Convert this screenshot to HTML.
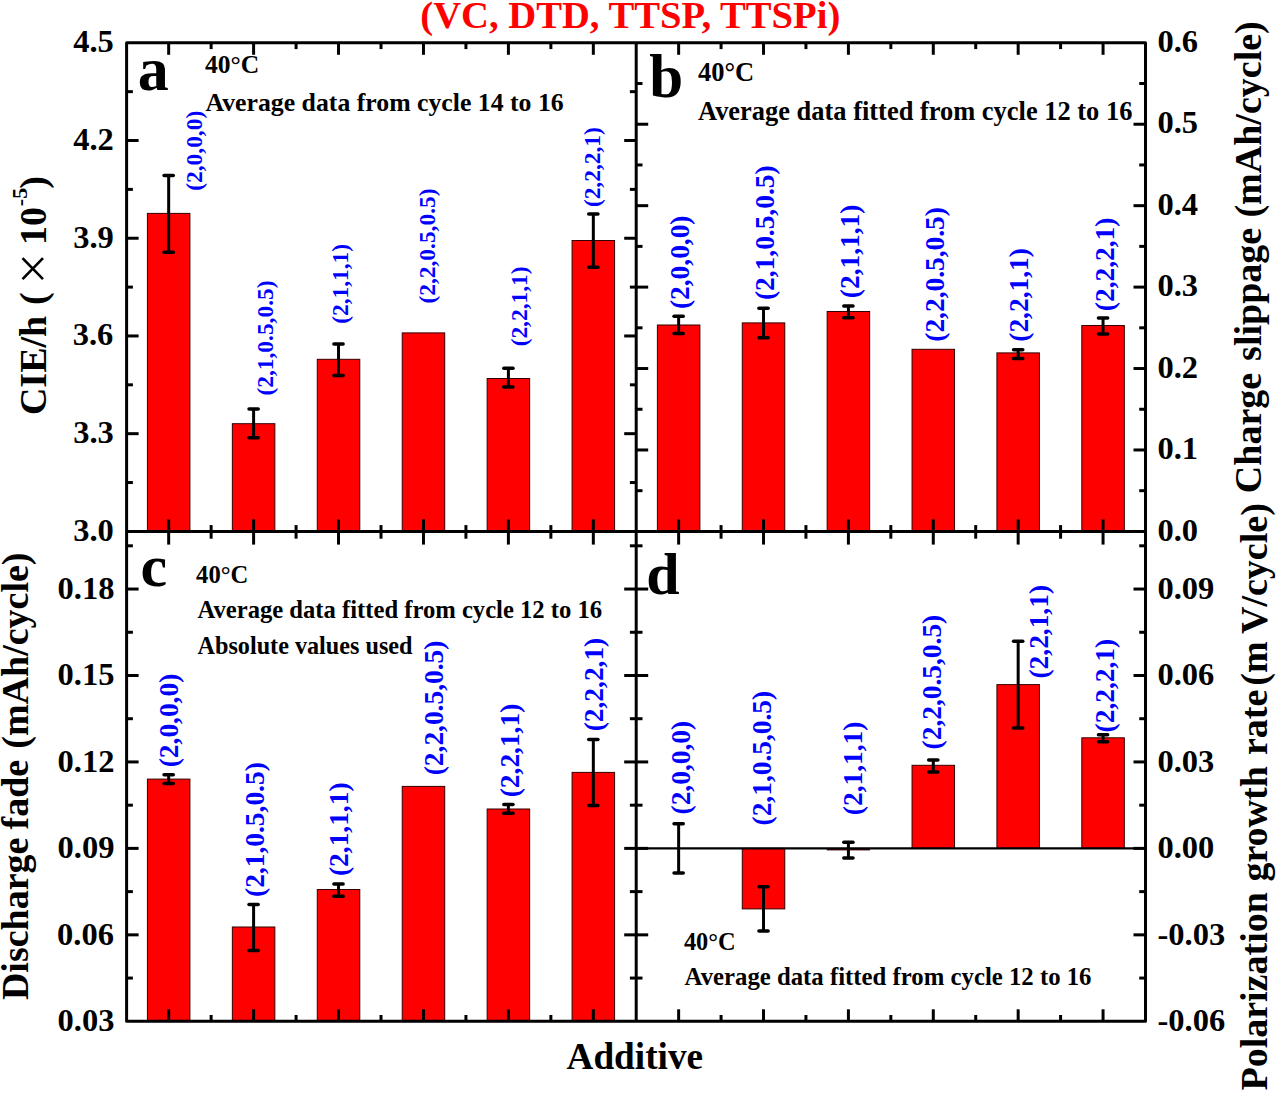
<!DOCTYPE html>
<html><head><meta charset="utf-8"><title>Additive chart</title>
<style>html,body{margin:0;padding:0;background:#fff;}body{width:1280px;height:1093px;overflow:hidden;font-family:"Liberation Serif",serif;}svg{display:block;}</style>
</head><body>
<svg width="1280" height="1093" viewBox="0 0 1280 1093">
<rect width="1280" height="1093" fill="#fff"/>
<g>
<rect x="147.42" y="213.40" width="42.50" height="318.00" fill="#FF0000" stroke="#300" stroke-width="1"/>
<rect x="657.39" y="325.00" width="42.50" height="206.40" fill="#FF0000" stroke="#300" stroke-width="1"/>
<rect x="147.42" y="779.10" width="42.50" height="242.20" fill="#FF0000" stroke="#300" stroke-width="1"/>
<rect x="232.35" y="423.70" width="42.50" height="107.70" fill="#FF0000" stroke="#300" stroke-width="1"/>
<rect x="742.28" y="322.90" width="42.50" height="208.50" fill="#FF0000" stroke="#300" stroke-width="1"/>
<rect x="232.35" y="927.00" width="42.50" height="94.30" fill="#FF0000" stroke="#300" stroke-width="1"/>
<rect x="742.28" y="848.39" width="42.50" height="60.51" fill="#FF0000" stroke="#300" stroke-width="1"/>
<rect x="317.28" y="359.30" width="42.50" height="172.10" fill="#FF0000" stroke="#300" stroke-width="1"/>
<rect x="827.16" y="311.50" width="42.50" height="219.90" fill="#FF0000" stroke="#300" stroke-width="1"/>
<rect x="317.28" y="889.50" width="42.50" height="131.80" fill="#FF0000" stroke="#300" stroke-width="1"/>
<rect x="827.16" y="848.39" width="42.50" height="1.6" fill="#600" stroke="#300" stroke-width="0.8"/>
<rect x="402.22" y="332.90" width="42.50" height="198.50" fill="#FF0000" stroke="#300" stroke-width="1"/>
<rect x="912.04" y="349.30" width="42.50" height="182.10" fill="#FF0000" stroke="#300" stroke-width="1"/>
<rect x="402.22" y="786.40" width="42.50" height="234.90" fill="#FF0000" stroke="#300" stroke-width="1"/>
<rect x="912.04" y="765.30" width="42.50" height="83.09" fill="#FF0000" stroke="#300" stroke-width="1"/>
<rect x="487.15" y="378.50" width="42.50" height="152.90" fill="#FF0000" stroke="#300" stroke-width="1"/>
<rect x="996.92" y="352.90" width="42.50" height="178.50" fill="#FF0000" stroke="#300" stroke-width="1"/>
<rect x="487.15" y="809.00" width="42.50" height="212.30" fill="#FF0000" stroke="#300" stroke-width="1"/>
<rect x="996.92" y="684.60" width="42.50" height="163.79" fill="#FF0000" stroke="#300" stroke-width="1"/>
<rect x="572.08" y="240.50" width="42.50" height="290.90" fill="#FF0000" stroke="#300" stroke-width="1"/>
<rect x="1081.81" y="325.50" width="42.50" height="205.90" fill="#FF0000" stroke="#300" stroke-width="1"/>
<rect x="572.08" y="772.40" width="42.50" height="248.90" fill="#FF0000" stroke="#300" stroke-width="1"/>
<rect x="1081.81" y="737.80" width="42.50" height="110.59" fill="#FF0000" stroke="#300" stroke-width="1"/>
</g>
<line x1="636.20" y1="848.39" x2="1145.50" y2="848.39" stroke="#000" stroke-width="2.4"/>
<g>
<line x1="168.67" y1="175.60" x2="168.67" y2="252.20" stroke="#000" stroke-width="3"/>
<line x1="164.07" y1="175.60" x2="173.27" y2="175.60" stroke="#000" stroke-width="3.5" stroke-linecap="round"/>
<line x1="164.07" y1="252.20" x2="173.27" y2="252.20" stroke="#000" stroke-width="3.5" stroke-linecap="round"/>
<line x1="678.64" y1="316.20" x2="678.64" y2="333.60" stroke="#000" stroke-width="3"/>
<line x1="674.04" y1="316.20" x2="683.24" y2="316.20" stroke="#000" stroke-width="3.5" stroke-linecap="round"/>
<line x1="674.04" y1="333.60" x2="683.24" y2="333.60" stroke="#000" stroke-width="3.5" stroke-linecap="round"/>
<line x1="168.67" y1="774.70" x2="168.67" y2="783.50" stroke="#000" stroke-width="3"/>
<line x1="164.07" y1="774.70" x2="173.27" y2="774.70" stroke="#000" stroke-width="3.5" stroke-linecap="round"/>
<line x1="164.07" y1="783.50" x2="173.27" y2="783.50" stroke="#000" stroke-width="3.5" stroke-linecap="round"/>
<line x1="678.64" y1="823.80" x2="678.64" y2="873.00" stroke="#000" stroke-width="3"/>
<line x1="674.04" y1="823.80" x2="683.24" y2="823.80" stroke="#000" stroke-width="3.5" stroke-linecap="round"/>
<line x1="674.04" y1="873.00" x2="683.24" y2="873.00" stroke="#000" stroke-width="3.5" stroke-linecap="round"/>
<line x1="253.60" y1="408.90" x2="253.60" y2="437.80" stroke="#000" stroke-width="3"/>
<line x1="249.00" y1="408.90" x2="258.20" y2="408.90" stroke="#000" stroke-width="3.5" stroke-linecap="round"/>
<line x1="249.00" y1="437.80" x2="258.20" y2="437.80" stroke="#000" stroke-width="3.5" stroke-linecap="round"/>
<line x1="763.53" y1="308.20" x2="763.53" y2="337.80" stroke="#000" stroke-width="3"/>
<line x1="758.93" y1="308.20" x2="768.13" y2="308.20" stroke="#000" stroke-width="3.5" stroke-linecap="round"/>
<line x1="758.93" y1="337.80" x2="768.13" y2="337.80" stroke="#000" stroke-width="3.5" stroke-linecap="round"/>
<line x1="253.60" y1="904.50" x2="253.60" y2="950.40" stroke="#000" stroke-width="3"/>
<line x1="249.00" y1="904.50" x2="258.20" y2="904.50" stroke="#000" stroke-width="3.5" stroke-linecap="round"/>
<line x1="249.00" y1="950.40" x2="258.20" y2="950.40" stroke="#000" stroke-width="3.5" stroke-linecap="round"/>
<line x1="763.53" y1="886.70" x2="763.53" y2="931.10" stroke="#000" stroke-width="3"/>
<line x1="758.93" y1="886.70" x2="768.13" y2="886.70" stroke="#000" stroke-width="3.5" stroke-linecap="round"/>
<line x1="758.93" y1="931.10" x2="768.13" y2="931.10" stroke="#000" stroke-width="3.5" stroke-linecap="round"/>
<line x1="338.53" y1="343.90" x2="338.53" y2="375.50" stroke="#000" stroke-width="3"/>
<line x1="333.93" y1="343.90" x2="343.13" y2="343.90" stroke="#000" stroke-width="3.5" stroke-linecap="round"/>
<line x1="333.93" y1="375.50" x2="343.13" y2="375.50" stroke="#000" stroke-width="3.5" stroke-linecap="round"/>
<line x1="848.41" y1="306.10" x2="848.41" y2="317.80" stroke="#000" stroke-width="3"/>
<line x1="843.81" y1="306.10" x2="853.01" y2="306.10" stroke="#000" stroke-width="3.5" stroke-linecap="round"/>
<line x1="843.81" y1="317.80" x2="853.01" y2="317.80" stroke="#000" stroke-width="3.5" stroke-linecap="round"/>
<line x1="338.53" y1="884.00" x2="338.53" y2="896.20" stroke="#000" stroke-width="3"/>
<line x1="333.93" y1="884.00" x2="343.13" y2="884.00" stroke="#000" stroke-width="3.5" stroke-linecap="round"/>
<line x1="333.93" y1="896.20" x2="343.13" y2="896.20" stroke="#000" stroke-width="3.5" stroke-linecap="round"/>
<line x1="848.41" y1="842.30" x2="848.41" y2="857.90" stroke="#000" stroke-width="3"/>
<line x1="843.81" y1="842.30" x2="853.01" y2="842.30" stroke="#000" stroke-width="3.5" stroke-linecap="round"/>
<line x1="843.81" y1="857.90" x2="853.01" y2="857.90" stroke="#000" stroke-width="3.5" stroke-linecap="round"/>
<line x1="933.29" y1="759.90" x2="933.29" y2="772.00" stroke="#000" stroke-width="3"/>
<line x1="928.69" y1="759.90" x2="937.89" y2="759.90" stroke="#000" stroke-width="3.5" stroke-linecap="round"/>
<line x1="928.69" y1="772.00" x2="937.89" y2="772.00" stroke="#000" stroke-width="3.5" stroke-linecap="round"/>
<line x1="508.40" y1="368.20" x2="508.40" y2="387.10" stroke="#000" stroke-width="3"/>
<line x1="503.80" y1="368.20" x2="513.00" y2="368.20" stroke="#000" stroke-width="3.5" stroke-linecap="round"/>
<line x1="503.80" y1="387.10" x2="513.00" y2="387.10" stroke="#000" stroke-width="3.5" stroke-linecap="round"/>
<line x1="1018.17" y1="349.80" x2="1018.17" y2="358.40" stroke="#000" stroke-width="3"/>
<line x1="1013.57" y1="349.80" x2="1022.77" y2="349.80" stroke="#000" stroke-width="3.5" stroke-linecap="round"/>
<line x1="1013.57" y1="358.40" x2="1022.77" y2="358.40" stroke="#000" stroke-width="3.5" stroke-linecap="round"/>
<line x1="508.40" y1="804.60" x2="508.40" y2="813.30" stroke="#000" stroke-width="3"/>
<line x1="503.80" y1="804.60" x2="513.00" y2="804.60" stroke="#000" stroke-width="3.5" stroke-linecap="round"/>
<line x1="503.80" y1="813.30" x2="513.00" y2="813.30" stroke="#000" stroke-width="3.5" stroke-linecap="round"/>
<line x1="1018.17" y1="641.30" x2="1018.17" y2="728.10" stroke="#000" stroke-width="3"/>
<line x1="1013.57" y1="641.30" x2="1022.77" y2="641.30" stroke="#000" stroke-width="3.5" stroke-linecap="round"/>
<line x1="1013.57" y1="728.10" x2="1022.77" y2="728.10" stroke="#000" stroke-width="3.5" stroke-linecap="round"/>
<line x1="593.33" y1="214.00" x2="593.33" y2="267.20" stroke="#000" stroke-width="3"/>
<line x1="588.73" y1="214.00" x2="597.93" y2="214.00" stroke="#000" stroke-width="3.5" stroke-linecap="round"/>
<line x1="588.73" y1="267.20" x2="597.93" y2="267.20" stroke="#000" stroke-width="3.5" stroke-linecap="round"/>
<line x1="1103.06" y1="318.10" x2="1103.06" y2="334.10" stroke="#000" stroke-width="3"/>
<line x1="1098.46" y1="318.10" x2="1107.66" y2="318.10" stroke="#000" stroke-width="3.5" stroke-linecap="round"/>
<line x1="1098.46" y1="334.10" x2="1107.66" y2="334.10" stroke="#000" stroke-width="3.5" stroke-linecap="round"/>
<line x1="593.33" y1="739.60" x2="593.33" y2="805.40" stroke="#000" stroke-width="3"/>
<line x1="588.73" y1="739.60" x2="597.93" y2="739.60" stroke="#000" stroke-width="3.5" stroke-linecap="round"/>
<line x1="588.73" y1="805.40" x2="597.93" y2="805.40" stroke="#000" stroke-width="3.5" stroke-linecap="round"/>
<line x1="1103.06" y1="734.70" x2="1103.06" y2="741.80" stroke="#000" stroke-width="3"/>
<line x1="1098.46" y1="734.70" x2="1107.66" y2="734.70" stroke="#000" stroke-width="3.5" stroke-linecap="round"/>
<line x1="1098.46" y1="741.80" x2="1107.66" y2="741.80" stroke="#000" stroke-width="3.5" stroke-linecap="round"/>
</g>
<g>
<line x1="168.67" y1="42.80" x2="168.67" y2="54.80" stroke="#000" stroke-width="3.0" stroke-linecap="butt"/>
<line x1="168.67" y1="519.40" x2="168.67" y2="544.60" stroke="#000" stroke-width="3.0" stroke-linecap="butt"/>
<line x1="168.67" y1="1009.30" x2="168.67" y2="1021.30" stroke="#000" stroke-width="3.0" stroke-linecap="butt"/>
<line x1="253.60" y1="42.80" x2="253.60" y2="54.80" stroke="#000" stroke-width="3.0" stroke-linecap="butt"/>
<line x1="253.60" y1="519.40" x2="253.60" y2="544.60" stroke="#000" stroke-width="3.0" stroke-linecap="butt"/>
<line x1="253.60" y1="1009.30" x2="253.60" y2="1021.30" stroke="#000" stroke-width="3.0" stroke-linecap="butt"/>
<line x1="338.53" y1="42.80" x2="338.53" y2="54.80" stroke="#000" stroke-width="3.0" stroke-linecap="butt"/>
<line x1="338.53" y1="519.40" x2="338.53" y2="544.60" stroke="#000" stroke-width="3.0" stroke-linecap="butt"/>
<line x1="338.53" y1="1009.30" x2="338.53" y2="1021.30" stroke="#000" stroke-width="3.0" stroke-linecap="butt"/>
<line x1="423.47" y1="42.80" x2="423.47" y2="54.80" stroke="#000" stroke-width="3.0" stroke-linecap="butt"/>
<line x1="423.47" y1="519.40" x2="423.47" y2="544.60" stroke="#000" stroke-width="3.0" stroke-linecap="butt"/>
<line x1="423.47" y1="1009.30" x2="423.47" y2="1021.30" stroke="#000" stroke-width="3.0" stroke-linecap="butt"/>
<line x1="508.40" y1="42.80" x2="508.40" y2="54.80" stroke="#000" stroke-width="3.0" stroke-linecap="butt"/>
<line x1="508.40" y1="519.40" x2="508.40" y2="544.60" stroke="#000" stroke-width="3.0" stroke-linecap="butt"/>
<line x1="508.40" y1="1009.30" x2="508.40" y2="1021.30" stroke="#000" stroke-width="3.0" stroke-linecap="butt"/>
<line x1="593.33" y1="42.80" x2="593.33" y2="54.80" stroke="#000" stroke-width="3.0" stroke-linecap="butt"/>
<line x1="593.33" y1="519.40" x2="593.33" y2="544.60" stroke="#000" stroke-width="3.0" stroke-linecap="butt"/>
<line x1="593.33" y1="1009.30" x2="593.33" y2="1021.30" stroke="#000" stroke-width="3.0" stroke-linecap="butt"/>
<line x1="211.13" y1="42.80" x2="211.13" y2="49.10" stroke="#000" stroke-width="3.0" stroke-linecap="butt"/>
<line x1="211.13" y1="525.10" x2="211.13" y2="538.70" stroke="#000" stroke-width="3.0" stroke-linecap="butt"/>
<line x1="211.13" y1="1015.00" x2="211.13" y2="1021.30" stroke="#000" stroke-width="3.0" stroke-linecap="butt"/>
<line x1="296.07" y1="42.80" x2="296.07" y2="49.10" stroke="#000" stroke-width="3.0" stroke-linecap="butt"/>
<line x1="296.07" y1="525.10" x2="296.07" y2="538.70" stroke="#000" stroke-width="3.0" stroke-linecap="butt"/>
<line x1="296.07" y1="1015.00" x2="296.07" y2="1021.30" stroke="#000" stroke-width="3.0" stroke-linecap="butt"/>
<line x1="381.00" y1="42.80" x2="381.00" y2="49.10" stroke="#000" stroke-width="3.0" stroke-linecap="butt"/>
<line x1="381.00" y1="525.10" x2="381.00" y2="538.70" stroke="#000" stroke-width="3.0" stroke-linecap="butt"/>
<line x1="381.00" y1="1015.00" x2="381.00" y2="1021.30" stroke="#000" stroke-width="3.0" stroke-linecap="butt"/>
<line x1="465.93" y1="42.80" x2="465.93" y2="49.10" stroke="#000" stroke-width="3.0" stroke-linecap="butt"/>
<line x1="465.93" y1="525.10" x2="465.93" y2="538.70" stroke="#000" stroke-width="3.0" stroke-linecap="butt"/>
<line x1="465.93" y1="1015.00" x2="465.93" y2="1021.30" stroke="#000" stroke-width="3.0" stroke-linecap="butt"/>
<line x1="550.87" y1="42.80" x2="550.87" y2="49.10" stroke="#000" stroke-width="3.0" stroke-linecap="butt"/>
<line x1="550.87" y1="525.10" x2="550.87" y2="538.70" stroke="#000" stroke-width="3.0" stroke-linecap="butt"/>
<line x1="550.87" y1="1015.00" x2="550.87" y2="1021.30" stroke="#000" stroke-width="3.0" stroke-linecap="butt"/>
<line x1="678.64" y1="42.80" x2="678.64" y2="54.80" stroke="#000" stroke-width="3.0" stroke-linecap="butt"/>
<line x1="678.64" y1="519.40" x2="678.64" y2="544.60" stroke="#000" stroke-width="3.0" stroke-linecap="butt"/>
<line x1="678.64" y1="1009.30" x2="678.64" y2="1021.30" stroke="#000" stroke-width="3.0" stroke-linecap="butt"/>
<line x1="763.53" y1="42.80" x2="763.53" y2="54.80" stroke="#000" stroke-width="3.0" stroke-linecap="butt"/>
<line x1="763.53" y1="519.40" x2="763.53" y2="544.60" stroke="#000" stroke-width="3.0" stroke-linecap="butt"/>
<line x1="763.53" y1="1009.30" x2="763.53" y2="1021.30" stroke="#000" stroke-width="3.0" stroke-linecap="butt"/>
<line x1="848.41" y1="42.80" x2="848.41" y2="54.80" stroke="#000" stroke-width="3.0" stroke-linecap="butt"/>
<line x1="848.41" y1="519.40" x2="848.41" y2="544.60" stroke="#000" stroke-width="3.0" stroke-linecap="butt"/>
<line x1="848.41" y1="1009.30" x2="848.41" y2="1021.30" stroke="#000" stroke-width="3.0" stroke-linecap="butt"/>
<line x1="933.29" y1="42.80" x2="933.29" y2="54.80" stroke="#000" stroke-width="3.0" stroke-linecap="butt"/>
<line x1="933.29" y1="519.40" x2="933.29" y2="544.60" stroke="#000" stroke-width="3.0" stroke-linecap="butt"/>
<line x1="933.29" y1="1009.30" x2="933.29" y2="1021.30" stroke="#000" stroke-width="3.0" stroke-linecap="butt"/>
<line x1="1018.17" y1="42.80" x2="1018.17" y2="54.80" stroke="#000" stroke-width="3.0" stroke-linecap="butt"/>
<line x1="1018.17" y1="519.40" x2="1018.17" y2="544.60" stroke="#000" stroke-width="3.0" stroke-linecap="butt"/>
<line x1="1018.17" y1="1009.30" x2="1018.17" y2="1021.30" stroke="#000" stroke-width="3.0" stroke-linecap="butt"/>
<line x1="1103.06" y1="42.80" x2="1103.06" y2="54.80" stroke="#000" stroke-width="3.0" stroke-linecap="butt"/>
<line x1="1103.06" y1="519.40" x2="1103.06" y2="544.60" stroke="#000" stroke-width="3.0" stroke-linecap="butt"/>
<line x1="1103.06" y1="1009.30" x2="1103.06" y2="1021.30" stroke="#000" stroke-width="3.0" stroke-linecap="butt"/>
<line x1="721.06" y1="42.80" x2="721.06" y2="49.10" stroke="#000" stroke-width="3.0" stroke-linecap="butt"/>
<line x1="721.06" y1="525.10" x2="721.06" y2="538.70" stroke="#000" stroke-width="3.0" stroke-linecap="butt"/>
<line x1="721.06" y1="1015.00" x2="721.06" y2="1021.30" stroke="#000" stroke-width="3.0" stroke-linecap="butt"/>
<line x1="805.94" y1="42.80" x2="805.94" y2="49.10" stroke="#000" stroke-width="3.0" stroke-linecap="butt"/>
<line x1="805.94" y1="525.10" x2="805.94" y2="538.70" stroke="#000" stroke-width="3.0" stroke-linecap="butt"/>
<line x1="805.94" y1="1015.00" x2="805.94" y2="1021.30" stroke="#000" stroke-width="3.0" stroke-linecap="butt"/>
<line x1="890.83" y1="42.80" x2="890.83" y2="49.10" stroke="#000" stroke-width="3.0" stroke-linecap="butt"/>
<line x1="890.83" y1="525.10" x2="890.83" y2="538.70" stroke="#000" stroke-width="3.0" stroke-linecap="butt"/>
<line x1="890.83" y1="1015.00" x2="890.83" y2="1021.30" stroke="#000" stroke-width="3.0" stroke-linecap="butt"/>
<line x1="975.71" y1="42.80" x2="975.71" y2="49.10" stroke="#000" stroke-width="3.0" stroke-linecap="butt"/>
<line x1="975.71" y1="525.10" x2="975.71" y2="538.70" stroke="#000" stroke-width="3.0" stroke-linecap="butt"/>
<line x1="975.71" y1="1015.00" x2="975.71" y2="1021.30" stroke="#000" stroke-width="3.0" stroke-linecap="butt"/>
<line x1="1060.59" y1="42.80" x2="1060.59" y2="49.10" stroke="#000" stroke-width="3.0" stroke-linecap="butt"/>
<line x1="1060.59" y1="525.10" x2="1060.59" y2="538.70" stroke="#000" stroke-width="3.0" stroke-linecap="butt"/>
<line x1="1060.59" y1="1015.00" x2="1060.59" y2="1021.30" stroke="#000" stroke-width="3.0" stroke-linecap="butt"/>
<line x1="126.60" y1="433.68" x2="138.60" y2="433.68" stroke="#000" stroke-width="3.0" stroke-linecap="butt"/>
<line x1="636.20" y1="433.68" x2="624.20" y2="433.68" stroke="#000" stroke-width="3.0" stroke-linecap="butt"/>
<line x1="126.60" y1="335.96" x2="138.60" y2="335.96" stroke="#000" stroke-width="3.0" stroke-linecap="butt"/>
<line x1="636.20" y1="335.96" x2="624.20" y2="335.96" stroke="#000" stroke-width="3.0" stroke-linecap="butt"/>
<line x1="126.60" y1="238.24" x2="138.60" y2="238.24" stroke="#000" stroke-width="3.0" stroke-linecap="butt"/>
<line x1="636.20" y1="238.24" x2="624.20" y2="238.24" stroke="#000" stroke-width="3.0" stroke-linecap="butt"/>
<line x1="126.60" y1="140.52" x2="138.60" y2="140.52" stroke="#000" stroke-width="3.0" stroke-linecap="butt"/>
<line x1="636.20" y1="140.52" x2="624.20" y2="140.52" stroke="#000" stroke-width="3.0" stroke-linecap="butt"/>
<line x1="126.60" y1="482.54" x2="132.90" y2="482.54" stroke="#000" stroke-width="3.0" stroke-linecap="butt"/>
<line x1="636.20" y1="482.54" x2="629.90" y2="482.54" stroke="#000" stroke-width="3.0" stroke-linecap="butt"/>
<line x1="126.60" y1="384.82" x2="132.90" y2="384.82" stroke="#000" stroke-width="3.0" stroke-linecap="butt"/>
<line x1="636.20" y1="384.82" x2="629.90" y2="384.82" stroke="#000" stroke-width="3.0" stroke-linecap="butt"/>
<line x1="126.60" y1="287.10" x2="132.90" y2="287.10" stroke="#000" stroke-width="3.0" stroke-linecap="butt"/>
<line x1="636.20" y1="287.10" x2="629.90" y2="287.10" stroke="#000" stroke-width="3.0" stroke-linecap="butt"/>
<line x1="126.60" y1="189.38" x2="132.90" y2="189.38" stroke="#000" stroke-width="3.0" stroke-linecap="butt"/>
<line x1="636.20" y1="189.38" x2="629.90" y2="189.38" stroke="#000" stroke-width="3.0" stroke-linecap="butt"/>
<line x1="126.60" y1="91.66" x2="132.90" y2="91.66" stroke="#000" stroke-width="3.0" stroke-linecap="butt"/>
<line x1="636.20" y1="91.66" x2="629.90" y2="91.66" stroke="#000" stroke-width="3.0" stroke-linecap="butt"/>
<line x1="636.20" y1="449.97" x2="648.20" y2="449.97" stroke="#000" stroke-width="3.0" stroke-linecap="butt"/>
<line x1="1145.50" y1="449.97" x2="1133.50" y2="449.97" stroke="#000" stroke-width="3.0" stroke-linecap="butt"/>
<line x1="636.20" y1="368.53" x2="648.20" y2="368.53" stroke="#000" stroke-width="3.0" stroke-linecap="butt"/>
<line x1="1145.50" y1="368.53" x2="1133.50" y2="368.53" stroke="#000" stroke-width="3.0" stroke-linecap="butt"/>
<line x1="636.20" y1="287.10" x2="648.20" y2="287.10" stroke="#000" stroke-width="3.0" stroke-linecap="butt"/>
<line x1="1145.50" y1="287.10" x2="1133.50" y2="287.10" stroke="#000" stroke-width="3.0" stroke-linecap="butt"/>
<line x1="636.20" y1="205.67" x2="648.20" y2="205.67" stroke="#000" stroke-width="3.0" stroke-linecap="butt"/>
<line x1="1145.50" y1="205.67" x2="1133.50" y2="205.67" stroke="#000" stroke-width="3.0" stroke-linecap="butt"/>
<line x1="636.20" y1="124.23" x2="648.20" y2="124.23" stroke="#000" stroke-width="3.0" stroke-linecap="butt"/>
<line x1="1145.50" y1="124.23" x2="1133.50" y2="124.23" stroke="#000" stroke-width="3.0" stroke-linecap="butt"/>
<line x1="636.20" y1="490.68" x2="642.50" y2="490.68" stroke="#000" stroke-width="3.0" stroke-linecap="butt"/>
<line x1="1145.50" y1="490.68" x2="1139.20" y2="490.68" stroke="#000" stroke-width="3.0" stroke-linecap="butt"/>
<line x1="636.20" y1="409.25" x2="642.50" y2="409.25" stroke="#000" stroke-width="3.0" stroke-linecap="butt"/>
<line x1="1145.50" y1="409.25" x2="1139.20" y2="409.25" stroke="#000" stroke-width="3.0" stroke-linecap="butt"/>
<line x1="636.20" y1="327.82" x2="642.50" y2="327.82" stroke="#000" stroke-width="3.0" stroke-linecap="butt"/>
<line x1="1145.50" y1="327.82" x2="1139.20" y2="327.82" stroke="#000" stroke-width="3.0" stroke-linecap="butt"/>
<line x1="636.20" y1="246.38" x2="642.50" y2="246.38" stroke="#000" stroke-width="3.0" stroke-linecap="butt"/>
<line x1="1145.50" y1="246.38" x2="1139.20" y2="246.38" stroke="#000" stroke-width="3.0" stroke-linecap="butt"/>
<line x1="636.20" y1="164.95" x2="642.50" y2="164.95" stroke="#000" stroke-width="3.0" stroke-linecap="butt"/>
<line x1="1145.50" y1="164.95" x2="1139.20" y2="164.95" stroke="#000" stroke-width="3.0" stroke-linecap="butt"/>
<line x1="636.20" y1="83.52" x2="642.50" y2="83.52" stroke="#000" stroke-width="3.0" stroke-linecap="butt"/>
<line x1="1145.50" y1="83.52" x2="1139.20" y2="83.52" stroke="#000" stroke-width="3.0" stroke-linecap="butt"/>
<line x1="126.60" y1="934.85" x2="138.60" y2="934.85" stroke="#000" stroke-width="3.0" stroke-linecap="butt"/>
<line x1="636.20" y1="934.85" x2="624.20" y2="934.85" stroke="#000" stroke-width="3.0" stroke-linecap="butt"/>
<line x1="126.60" y1="848.39" x2="138.60" y2="848.39" stroke="#000" stroke-width="3.0" stroke-linecap="butt"/>
<line x1="636.20" y1="848.39" x2="624.20" y2="848.39" stroke="#000" stroke-width="3.0" stroke-linecap="butt"/>
<line x1="126.60" y1="761.94" x2="138.60" y2="761.94" stroke="#000" stroke-width="3.0" stroke-linecap="butt"/>
<line x1="636.20" y1="761.94" x2="624.20" y2="761.94" stroke="#000" stroke-width="3.0" stroke-linecap="butt"/>
<line x1="126.60" y1="675.49" x2="138.60" y2="675.49" stroke="#000" stroke-width="3.0" stroke-linecap="butt"/>
<line x1="636.20" y1="675.49" x2="624.20" y2="675.49" stroke="#000" stroke-width="3.0" stroke-linecap="butt"/>
<line x1="126.60" y1="589.04" x2="138.60" y2="589.04" stroke="#000" stroke-width="3.0" stroke-linecap="butt"/>
<line x1="636.20" y1="589.04" x2="624.20" y2="589.04" stroke="#000" stroke-width="3.0" stroke-linecap="butt"/>
<line x1="126.60" y1="978.07" x2="132.90" y2="978.07" stroke="#000" stroke-width="3.0" stroke-linecap="butt"/>
<line x1="636.20" y1="978.07" x2="629.90" y2="978.07" stroke="#000" stroke-width="3.0" stroke-linecap="butt"/>
<line x1="126.60" y1="891.62" x2="132.90" y2="891.62" stroke="#000" stroke-width="3.0" stroke-linecap="butt"/>
<line x1="636.20" y1="891.62" x2="629.90" y2="891.62" stroke="#000" stroke-width="3.0" stroke-linecap="butt"/>
<line x1="126.60" y1="805.17" x2="132.90" y2="805.17" stroke="#000" stroke-width="3.0" stroke-linecap="butt"/>
<line x1="636.20" y1="805.17" x2="629.90" y2="805.17" stroke="#000" stroke-width="3.0" stroke-linecap="butt"/>
<line x1="126.60" y1="718.71" x2="132.90" y2="718.71" stroke="#000" stroke-width="3.0" stroke-linecap="butt"/>
<line x1="636.20" y1="718.71" x2="629.90" y2="718.71" stroke="#000" stroke-width="3.0" stroke-linecap="butt"/>
<line x1="126.60" y1="632.26" x2="132.90" y2="632.26" stroke="#000" stroke-width="3.0" stroke-linecap="butt"/>
<line x1="636.20" y1="632.26" x2="629.90" y2="632.26" stroke="#000" stroke-width="3.0" stroke-linecap="butt"/>
<line x1="126.60" y1="545.81" x2="132.90" y2="545.81" stroke="#000" stroke-width="3.0" stroke-linecap="butt"/>
<line x1="636.20" y1="545.81" x2="629.90" y2="545.81" stroke="#000" stroke-width="3.0" stroke-linecap="butt"/>
<line x1="636.20" y1="934.85" x2="648.20" y2="934.85" stroke="#000" stroke-width="3.0" stroke-linecap="butt"/>
<line x1="1145.50" y1="934.85" x2="1133.50" y2="934.85" stroke="#000" stroke-width="3.0" stroke-linecap="butt"/>
<line x1="636.20" y1="848.39" x2="648.20" y2="848.39" stroke="#000" stroke-width="3.0" stroke-linecap="butt"/>
<line x1="1145.50" y1="848.39" x2="1133.50" y2="848.39" stroke="#000" stroke-width="3.0" stroke-linecap="butt"/>
<line x1="636.20" y1="761.94" x2="648.20" y2="761.94" stroke="#000" stroke-width="3.0" stroke-linecap="butt"/>
<line x1="1145.50" y1="761.94" x2="1133.50" y2="761.94" stroke="#000" stroke-width="3.0" stroke-linecap="butt"/>
<line x1="636.20" y1="675.49" x2="648.20" y2="675.49" stroke="#000" stroke-width="3.0" stroke-linecap="butt"/>
<line x1="1145.50" y1="675.49" x2="1133.50" y2="675.49" stroke="#000" stroke-width="3.0" stroke-linecap="butt"/>
<line x1="636.20" y1="589.04" x2="648.20" y2="589.04" stroke="#000" stroke-width="3.0" stroke-linecap="butt"/>
<line x1="1145.50" y1="589.04" x2="1133.50" y2="589.04" stroke="#000" stroke-width="3.0" stroke-linecap="butt"/>
<line x1="636.20" y1="978.07" x2="642.50" y2="978.07" stroke="#000" stroke-width="3.0" stroke-linecap="butt"/>
<line x1="1145.50" y1="978.07" x2="1139.20" y2="978.07" stroke="#000" stroke-width="3.0" stroke-linecap="butt"/>
<line x1="636.20" y1="891.62" x2="642.50" y2="891.62" stroke="#000" stroke-width="3.0" stroke-linecap="butt"/>
<line x1="1145.50" y1="891.62" x2="1139.20" y2="891.62" stroke="#000" stroke-width="3.0" stroke-linecap="butt"/>
<line x1="636.20" y1="805.17" x2="642.50" y2="805.17" stroke="#000" stroke-width="3.0" stroke-linecap="butt"/>
<line x1="1145.50" y1="805.17" x2="1139.20" y2="805.17" stroke="#000" stroke-width="3.0" stroke-linecap="butt"/>
<line x1="636.20" y1="718.71" x2="642.50" y2="718.71" stroke="#000" stroke-width="3.0" stroke-linecap="butt"/>
<line x1="1145.50" y1="718.71" x2="1139.20" y2="718.71" stroke="#000" stroke-width="3.0" stroke-linecap="butt"/>
<line x1="636.20" y1="632.26" x2="642.50" y2="632.26" stroke="#000" stroke-width="3.0" stroke-linecap="butt"/>
<line x1="1145.50" y1="632.26" x2="1139.20" y2="632.26" stroke="#000" stroke-width="3.0" stroke-linecap="butt"/>
<line x1="636.20" y1="545.81" x2="642.50" y2="545.81" stroke="#000" stroke-width="3.0" stroke-linecap="butt"/>
<line x1="1145.50" y1="545.81" x2="1139.20" y2="545.81" stroke="#000" stroke-width="3.0" stroke-linecap="butt"/>
</g>
<rect x="126.6" y="42.8" width="1018.90" height="978.50" fill="none" stroke="#000" stroke-width="3.0" stroke-linejoin="round"/><line x1="636.2" y1="42.8" x2="636.2" y2="1021.3" stroke="#000" stroke-width="3.0"/><line x1="126.6" y1="531.4" x2="1145.5" y2="531.4" stroke="#000" stroke-width="3.0"/>
<g font-family="&quot;Liberation Serif&quot;, serif" font-weight="bold">
<text x="420.29" y="27.50" font-size="38.64" fill="#FF0000">(VC, DTD, TTSP, TTSPi)</text>
<text x="137.83" y="90.00" font-size="62.00" fill="#000">a</text>
<text x="649.17" y="97.00" font-size="61.00" fill="#000">b</text>
<text x="140.61" y="586.00" font-size="60.00" fill="#000">c</text>
<text x="646.16" y="593.50" font-size="60.00" fill="#000">d</text>
<text x="204.90" y="73.00" font-size="25.58" fill="#000">40°C</text>
<text x="698.00" y="80.60" font-size="26.51" fill="#000">40°C</text>
<text x="196.10" y="582.50" font-size="24.61" fill="#000">40°C</text>
<text x="683.90" y="949.60" font-size="24.37" fill="#000">40°C</text>
<text x="205.50" y="111.00" font-size="25.78" fill="#000">Average data from cycle 14 to 16</text>
<text x="698.00" y="120.00" font-size="26.44" fill="#000">Average data fitted from cycle 12 to 16</text>
<text x="197.50" y="618.00" font-size="24.64" fill="#000">Average data fitted from cycle 12 to 16</text>
<text x="197.50" y="653.60" font-size="24.19" fill="#000">Absolute values used</text>
<text x="684.60" y="984.50" font-size="24.77" fill="#000">Average data fitted from cycle 12 to 16</text>
<text x="566.50" y="1068.50" font-size="37.26" fill="#000">Additive</text>
<text x="73.19" y="52.26" font-size="32.50" fill="#000">4.5</text>
<text x="73.19" y="149.98" font-size="32.50" fill="#000">4.2</text>
<text x="73.19" y="247.70" font-size="32.50" fill="#000">3.9</text>
<text x="72.68" y="345.42" font-size="32.50" fill="#000">3.6</text>
<text x="73.19" y="443.14" font-size="32.50" fill="#000">3.3</text>
<text x="73.19" y="540.86" font-size="32.50" fill="#000">3.0</text>
<text x="57.54" y="598.70" font-size="32.50" fill="#000">0.18</text>
<text x="57.54" y="685.15" font-size="32.50" fill="#000">0.15</text>
<text x="57.54" y="771.61" font-size="32.50" fill="#000">0.12</text>
<text x="57.54" y="858.06" font-size="32.50" fill="#000">0.09</text>
<text x="57.03" y="944.51" font-size="32.50" fill="#000">0.06</text>
<text x="57.54" y="1030.96" font-size="32.50" fill="#000">0.03</text>
<text x="1157.38" y="51.96" font-size="32.50" fill="#000">0.6</text>
<text x="1157.38" y="133.40" font-size="32.50" fill="#000">0.5</text>
<text x="1157.38" y="214.83" font-size="32.50" fill="#000">0.4</text>
<text x="1157.38" y="296.26" font-size="32.50" fill="#000">0.3</text>
<text x="1157.38" y="377.70" font-size="32.50" fill="#000">0.2</text>
<text x="1157.38" y="459.13" font-size="32.50" fill="#000">0.1</text>
<text x="1157.38" y="540.56" font-size="32.50" fill="#000">0.0</text>
<text x="1157.48" y="598.90" font-size="32.50" fill="#000">0.09</text>
<text x="1157.48" y="685.35" font-size="32.50" fill="#000">0.06</text>
<text x="1157.48" y="771.81" font-size="32.50" fill="#000">0.03</text>
<text x="1157.48" y="858.26" font-size="32.50" fill="#000">0.00</text>
<text x="1157.48" y="944.71" font-size="32.50" fill="#000">-0.03</text>
<text x="1157.48" y="1031.16" font-size="32.50" fill="#000">-0.06</text>
<text transform="translate(28.20,1000.09) rotate(-90)" font-size="38.00" fill="#000">Discharge</text>
<text transform="translate(28.20,829.46) rotate(-90)" font-size="38.00" fill="#000">fade</text>
<text transform="translate(28.20,748.73) rotate(-90)" font-size="38.00" fill="#000">(mAh/cycle)</text>
<text transform="translate(1261.20,493.18) rotate(-90)" font-size="38.00" fill="#000">Charge</text>
<text transform="translate(1261.20,360.90) rotate(-90)" font-size="38.00" fill="#000">slippage</text>
<text transform="translate(1261.20,217.53) rotate(-90)" font-size="38.00" fill="#000">(mAh/cycle)</text>
<text transform="translate(1267.20,1090.57) rotate(-90)" font-size="38.00" fill="#000">Polarization</text>
<text transform="translate(1267.20,881.58) rotate(-90)" font-size="38.00" fill="#000">growth</text>
<text transform="translate(1267.20,755.02) rotate(-90)" font-size="38.00" fill="#000">rate</text>
<text transform="translate(1267.20,685.76) rotate(-90)" font-size="38.00" fill="#000">(m</text>
<text transform="translate(1267.20,634.02) rotate(-90)" font-size="38.00" fill="#000">V/cycle)</text>
<text transform="translate(201.67,190.71) rotate(-90)" font-size="23.40" fill="#0000FF">(2,0,0,0)</text>
<text transform="translate(272.72,395.51) rotate(-90)" font-size="23.40" fill="#0000FF">(2,1,0.5,0.5)</text>
<text transform="translate(347.87,323.81) rotate(-90)" font-size="23.40" fill="#0000FF">(2,1,1,1)</text>
<text transform="translate(435.22,303.51) rotate(-90)" font-size="23.40" fill="#0000FF">(2,2,0.5,0.5)</text>
<text transform="translate(526.62,346.36) rotate(-90)" font-size="23.40" fill="#0000FF">(2,2,1,1)</text>
<text transform="translate(599.97,207.11) rotate(-90)" font-size="23.40" fill="#0000FF">(2,2,2,1)</text>
<text transform="translate(689.19,309.08) rotate(-90)" font-size="27.40" fill="#0000FF">(2,0,0,0)</text>
<text transform="translate(774.09,300.08) rotate(-90)" font-size="27.40" fill="#0000FF">(2,1,0.5,0.5)</text>
<text transform="translate(859.24,298.18) rotate(-90)" font-size="27.40" fill="#0000FF">(2,1,1,1)</text>
<text transform="translate(943.54,341.73) rotate(-90)" font-size="27.40" fill="#0000FF">(2,2,0.5,0.5)</text>
<text transform="translate(1027.94,341.73) rotate(-90)" font-size="27.40" fill="#0000FF">(2,2,1,1)</text>
<text transform="translate(1113.84,311.18) rotate(-90)" font-size="27.40" fill="#0000FF">(2,2,2,1)</text>
<text transform="translate(178.04,767.28) rotate(-90)" font-size="27.40" fill="#0000FF">(2,0,0,0)</text>
<text transform="translate(263.69,896.88) rotate(-90)" font-size="27.40" fill="#0000FF">(2,1,0.5,0.5)</text>
<text transform="translate(347.89,876.03) rotate(-90)" font-size="27.40" fill="#0000FF">(2,1,1,1)</text>
<text transform="translate(443.24,775.28) rotate(-90)" font-size="27.40" fill="#0000FF">(2,2,0.5,0.5)</text>
<text transform="translate(519.14,797.28) rotate(-90)" font-size="27.40" fill="#0000FF">(2,2,1,1)</text>
<text transform="translate(603.49,731.33) rotate(-90)" font-size="27.40" fill="#0000FF">(2,2,2,1)</text>
<text transform="translate(689.69,814.48) rotate(-90)" font-size="27.40" fill="#0000FF">(2,0,0,0)</text>
<text transform="translate(770.94,825.48) rotate(-90)" font-size="27.40" fill="#0000FF">(2,1,0.5,0.5)</text>
<text transform="translate(862.19,815.18) rotate(-90)" font-size="27.40" fill="#0000FF">(2,1,1,1)</text>
<text transform="translate(941.29,749.43) rotate(-90)" font-size="27.40" fill="#0000FF">(2,2,0.5,0.5)</text>
<text transform="translate(1047.74,678.53) rotate(-90)" font-size="27.40" fill="#0000FF">(2,2,1,1)</text>
<text transform="translate(1114.29,732.38) rotate(-90)" font-size="27.40" fill="#0000FF">(2,2,2,1)</text>
<text transform="translate(45.60,415.08) rotate(-90)" font-size="38.00" fill="#000">CIE/h</text>
<text transform="translate(45.60,304.89) rotate(-90)" font-size="38.00" fill="#000">(</text>
<text transform="translate(45.60,244.97) rotate(-90)" font-size="38.00" fill="#000">10</text>
<text transform="translate(26.50,206.19) rotate(-90)" font-size="22.00" fill="#000">-5</text>
<text transform="translate(45.60,188.79) rotate(-90)" font-size="38.00" fill="#000">)</text>
<path d="M22.5,258.2 L43.0,279.2 M22.5,279.2 L43.0,258.2" stroke="#000" stroke-width="2.6" fill="none"/>
</g>
</svg>
</body></html>
